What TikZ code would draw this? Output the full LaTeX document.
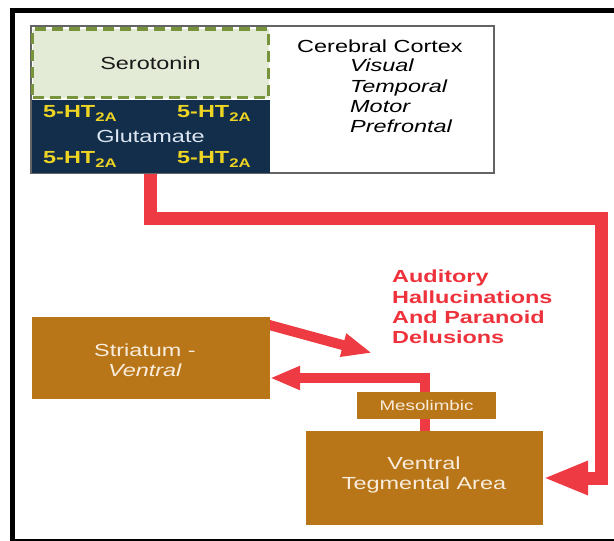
\documentclass[tikz,border=0pt]{standalone}
\usepackage{fontspec}
\setmainfont{Liberation Sans}[FakeStretch=1.34]
\usetikzlibrary{arrows.meta,backgrounds}

\definecolor{cortexgray}{RGB}{100,100,100}
\definecolor{serogreen}{RGB}{227,234,214}
\definecolor{serodash}{RGB}{119,147,60}
\definecolor{serotext}{RGB}{25,25,25}
\definecolor{glunavy}{RGB}{19,46,74}
\definecolor{htyellow}{RGB}{238,212,35}
\definecolor{glutext}{RGB}{220,230,242}
\definecolor{tractbrown}{RGB}{185,118,24}
\definecolor{boxtext}{RGB}{248,236,220}
\definecolor{arrowred}{RGB}{238,58,66}
\definecolor{symred}{RGB}{238,50,60}

% receptor label with a lowered subscript
\newcommand{\htrecep}{\bfseries 5-HT\raisebox{-4.5pt}{\fontsize{12.5}{13}\selectfont 2A}}

\begin{document}
\begin{tikzpicture}[x=1pt,y=-1pt,
  txt/.style={font=\fontsize{17.5}{20.3}\selectfont, inner sep=0pt},
  box/.style={inner sep=0pt, outer sep=0pt, anchor=north west},
  brownbox/.style={box, fill=tractbrown},
  onbrown/.style={txt, text=boxtext, align=center},
  htlabel/.style={txt, text=htyellow, anchor=base west},
  flow/.style={draw=arrowred, line width=13pt, -{Triangle[length=45pt,width=31pt]}},
  flowthin/.style={draw=arrowred, line width=10pt, -{Triangle[length=30pt,width=22pt]}},
]
\useasboundingbox (0,0) rectangle (614,541);
\clip (0,0) rectangle (614,541);

% outer frame
\draw[line width=5pt] (12.5,10) rectangle (640,541.5);

% cerebral cortex panel
\node[box, draw=cortexgray, line width=1.5pt, minimum width=463pt, minimum height=147pt] (cortex) at (31,26) {};
\node[box, fill=glunavy, minimum width=238pt, minimum height=73.5pt] (glu) at (31.5,99.5) {};
\node[box, fill=serogreen, draw=serodash, line width=3.5pt, dash pattern=on 11pt off 6pt,
      minimum width=236pt, minimum height=68.5pt] (sero) at (32.5,29) {};

\node[txt, text=serotext] (serolabel) at (sero.center) {Serotonin};
\node[htlabel] (ht1) at (43,117) {\htrecep};
\node[htlabel] (ht2) at (177,117) {\htrecep};
\node[htlabel] (ht3) at (43,163) {\htrecep};
\node[htlabel] (ht4) at (177,163) {\htrecep};
\node[txt, text=glutext, anchor=base] (glulabel) at (150.5,142) {Glutamate};

\node[txt, anchor=base] (cctitle) at (380,52) {Cerebral Cortex};
\node[txt, anchor=north west, align=left, font=\fontsize{17.5}{20.3}\selectfont\itshape]
  (areas) at (350,59) {Visual\\Temporal\\Motor\\Prefrontal};

% symptom label
\node[txt, anchor=north west, align=left, text=symred, font=\fontsize{17.5}{20.3}\selectfont\bfseries]
  (sym) at (392,270) {Auditory\\Hallucinations\\And Paranoid\\Delusions};

% subcortical regions
\node[brownbox, minimum width=238pt, minimum height=82pt] (str) at (32,317) {};
\node[onbrown] (strlabel) at (145,360.5) {Striatum -\\\textit{Ventral}};

\node[brownbox, minimum width=237pt, minimum height=94pt] (vta) at (306,431) {};
\node[onbrown] (vtalabel) at (424,475) {Ventral\\Tegmental Area};

\node[brownbox, minimum width=139pt, minimum height=27pt] (meso) at (357,392) {};
\node[txt, text=boxtext, font=\fontsize{14}{16}\selectfont] (mesolabel) at (meso.center) {Mesolimbic};

% pathways, kept behind the boxes
\begin{scope}[on background layer]
  \coordinate (bendA) at (601,218);
  \draw[flow] (glu.south) |- (bendA) |- (vta.east);
  \coordinate (bendB) at (424.5,378);
  \draw[flowthin] (vta.north) -- (bendB) -- (bendB -| str.east);
  \coordinate (strout) at (262,323);
  \coordinate (symtip) at (372,353);
  \draw[flowthin] (strout) -- (symtip);
\end{scope}
\end{tikzpicture}
\end{document}
